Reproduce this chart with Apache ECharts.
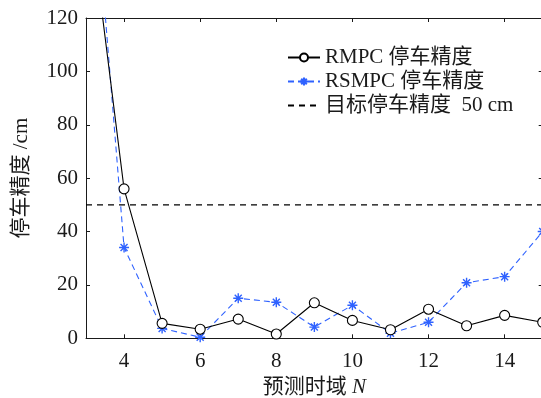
<!DOCTYPE html>
<html>
<head>
<meta charset="utf-8">
<script src="https://cdn.jsdelivr.net/npm/echarts@6/dist/echarts.min.js"></script>
<style>
  html, body { margin: 0; padding: 0; background: #fff; }
  #chart { width: 541px; height: 398px; }
</style>
</head>
<body>
<div id="chart"></div>
<script>
// Prediction horizon N and stopping accuracy (cm)
const horizons = [3, 4, 5, 6, 7, 8, 9, 10, 11, 12, 13, 14, 15];
const rmpcAccuracy  = [170, 56, 5.6, 3.4, 7.2, 1.6, 13.3, 6.7, 3.2, 10.9, 4.7, 8.6, 6.0];
const rsmpcAccuracy = [210, 34, 3.7, 0.4, 15.0, 13.5, 4.2, 12.4, 1.9, 6.0, 20.8, 23.1, 40.0];
const targetAccuracy = 50;
const xTicks = [4, 6, 8, 10, 12, 14];
const seriesNames = ['RMPC 停车精度', 'RSMPC 停车精度', '目标停车精度  50 cm'];

const FONT = '"Liberation Serif", "Noto Sans CJK SC", serif';
const FS = 21;
const INK = '#1a1a1a';
const BLUE = '#2f62ff';

const pairs = (ys) => horizons.map((x, i) => [x, ys[i]]);

// asterisk marker drawn as stroked spokes
const asterisk = 'path://M5,0L5,10M0,5L10,5M1.5,1.5L8.5,8.5M1.5,8.5L8.5,1.5';

const chart = echarts.init(document.getElementById('chart'), null, { renderer: 'canvas' });

const tickCommon = { show: true, inside: true, length: 4, lineStyle: { color: INK, width: 1 } };

chart.setOption({
  animation: false,
  backgroundColor: '#fff',
  grid: {
    left: 86, top: 18, width: 456.7, height: 320.3,
    containLabel: false,
    outerBoundsMode: 'none'
  },
  legend: {
    orient: 'vertical',
    left: 282,
    top: 42,
    itemWidth: 32,
    itemHeight: 10,
    itemGap: 3,
    textStyle: { fontFamily: FONT, fontSize: FS, color: INK, lineHeight: 21 },
    data: seriesNames
  },
  xAxis: [
    {
      type: 'value', min: 3, max: 15, position: 'bottom',
      axisLine: { show: true, onZero: false, lineStyle: { color: INK, width: 1 } },
      axisTick: Object.assign({ customValues: xTicks }, tickCommon),
      axisLabel: { customValues: xTicks, margin: 13, fontFamily: FONT, fontSize: FS, color: INK },
      splitLine: { show: false },
      name: '预测时域 {i|N}',
      nameLocation: 'middle',
      nameGap: 38,
      nameTextStyle: {
        fontFamily: FONT, fontSize: FS, color: INK,
        rich: { i: { fontFamily: FONT, fontStyle: 'italic', fontSize: FS, color: INK } }
      }
    },
    {
      type: 'value', min: 3, max: 15, position: 'top',
      axisLine: { show: true, onZero: false, lineStyle: { color: INK, width: 1 } },
      axisTick: Object.assign({ customValues: xTicks }, tickCommon),
      axisLabel: { show: false },
      splitLine: { show: false }
    }
  ],
  yAxis: [
    {
      type: 'value', min: 0, max: 120, interval: 20, position: 'left',
      axisLine: { show: true, onZero: false, lineStyle: { color: INK, width: 1 } },
      axisTick: tickCommon,
      axisLabel: { margin: 8, fontFamily: FONT, fontSize: FS, color: INK },
      splitLine: { show: false },
      name: '停车精度 /cm',
      nameLocation: 'middle',
      nameGap: 54,
      nameTextStyle: { fontFamily: FONT, fontSize: FS, color: INK }
    },
    {
      type: 'value', min: 0, max: 120, interval: 20, position: 'right',
      axisLine: { show: true, onZero: false, lineStyle: { color: INK, width: 1 } },
      axisTick: tickCommon,
      axisLabel: { show: false },
      splitLine: { show: false }
    }
  ],
  series: [
    {
      name: seriesNames[0],
      type: 'line',
      data: pairs(rmpcAccuracy),
      clip: true,
      symbol: 'circle',
      symbolSize: 10,
      lineStyle: { color: '#000', width: 1.1 },
      itemStyle: { color: '#fff', borderColor: '#000', borderWidth: 1.1 },
      z: 3
    },
    {
      name: seriesNames[1],
      type: 'line',
      data: pairs(rsmpcAccuracy),
      clip: true,
      symbol: asterisk,
      symbolSize: 10,
      lineStyle: { color: BLUE, width: 1.1, type: [6, 4] },
      itemStyle: { color: 'none', borderColor: BLUE, borderWidth: 1.4 },
      z: 2
    },
    {
      name: seriesNames[2],
      type: 'line',
      data: [[horizons[0], targetAccuracy], [horizons[horizons.length - 1], targetAccuracy]],
      showSymbol: false,
      symbol: 'circle',
      symbolSize: 0,
      lineStyle: { color: '#000', width: 1.1, type: [6, 5] },
      itemStyle: { color: 'rgba(0,0,0,0)', borderColor: 'rgba(0,0,0,0)', borderWidth: 0 },
      z: 1
    }
  ]
});
</script>
</body>
</html>
